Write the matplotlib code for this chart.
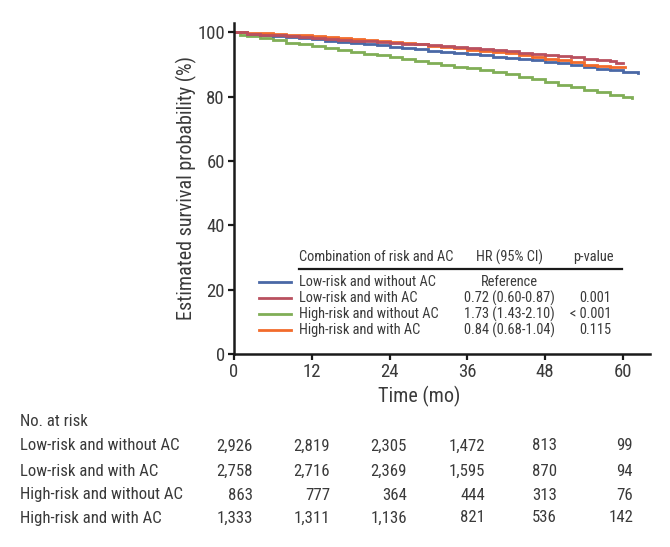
import matplotlib
matplotlib.use("Agg")
import matplotlib.pyplot as plt
import matplotlib.font_manager as fm
from matplotlib.lines import Line2D

# pick a condensed sans font if one is installed, else Roboto
_cands = []
for f in fm.fontManager.ttflist:
    nm = f.name
    st = str(f.stretch).lower()
    if f.style == "normal" and f.weight in (400, "normal", "regular") and (
            "narrow" in nm.lower() or "condensed" in nm.lower() or "condensed" in st):
        _cands.append(f)
_pref = ["Liberation Sans Narrow", "Roboto Condensed", "DejaVu Sans", "Noto Sans", "Open Sans"]
_cands.sort(key=lambda f: _pref.index(f.name) if f.name in _pref else 99)
if _cands:
    FONT_FAMILY = _cands[0].name
    FONT_STRETCH = _cands[0].stretch
else:
    FONT_FAMILY = "Roboto"
    FONT_STRETCH = "normal"
plt.rcParams['font.family'] = [FONT_FAMILY, 'DejaVu Sans']
plt.rcParams['font.stretch'] = FONT_STRETCH

# ---------------- data ----------------
groups = ["Low-risk and without AC", "Low-risk and with AC",
          "High-risk and without AC", "High-risk and with AC"]
colors = ["#4a68a6", "#b9505f", "#80ae56", "#f26b2b"]

t_low_noac = [0, 2, 4, 6, 8, 10, 12, 14, 16, 18, 20, 22, 24, 26, 28, 30, 32, 34, 36, 38,
              40, 42, 44, 46, 48, 50, 52, 54, 56, 58, 60, 62.3]
s_low_noac = [100, 99.5, 99.0, 98.7, 98.4, 98.1, 97.8, 97.4, 97.0, 96.6, 96.2, 95.9, 95.5,
              95.1, 94.7, 94.3, 93.9, 93.5, 93.1, 92.8, 92.4, 92.0, 91.6, 91.3, 90.9, 90.4,
              89.9, 89.3, 88.7, 88.2, 87.7, 87.4]

t_low_ac = [0, 2, 4, 6, 8, 10, 12, 14, 16, 18, 20, 22, 24, 26, 28, 30, 32, 34, 36, 38,
            40, 42, 44, 46, 48, 50, 52, 54, 56, 58, 59, 60]
s_low_ac = [100, 99.6, 99.3, 99.0, 98.8, 98.6, 98.3, 98.0, 97.7, 97.4, 97.2, 97.0, 96.8,
            96.5, 96.3, 96.0, 95.7, 95.4, 95.1, 94.8, 94.4, 94.1, 93.7, 93.3, 92.9, 92.6,
            92.2, 91.7, 91.3, 91.0, 90.4, 90.4]

t_high_noac = [0, 1, 2, 4, 6, 8, 10, 12, 14, 16, 18, 20, 22, 24, 26, 28, 30, 32, 34, 36,
               38, 40, 42, 44, 46, 48, 50, 52, 54, 56, 58, 60, 61.4]
s_high_noac = [100, 99.3, 98.8, 98.2, 97.5, 96.8, 96.2, 95.6, 95.0, 94.4, 93.9, 93.3, 92.8,
               92.3, 91.7, 91.0, 90.5, 89.9, 89.3, 88.8, 88.2, 87.6, 87.0, 86.2, 85.4, 84.4,
               83.6, 82.9, 82.2, 81.4, 80.6, 79.9, 79.7]

t_high_ac = [0, 2, 4, 6, 8, 10, 12, 14, 16, 18, 20, 22, 24, 26, 28, 30, 32, 34, 36, 38,
             40, 42, 44, 46, 48, 50, 52, 54, 56, 58, 60.3]
s_high_ac = [100, 99.9, 99.7, 99.5, 99.3, 99.1, 98.8, 98.5, 98.2, 97.9, 97.6, 97.3, 97.0,
             96.6, 96.2, 95.8, 95.4, 95.0, 94.6, 94.2, 93.8, 93.4, 92.8, 92.3, 91.8, 91.3,
             90.6, 89.8, 89.4, 89.2, 89.1]

hr_labels = ["Reference", "0.72 (0.60-0.87)", "1.73 (1.43-2.10)", "0.84 (0.68-1.04)"]
p_labels = ["", "0.001", "< 0.001", "0.115"]

x_ticks = [0, 12, 24, 36, 48, 60]
y_ticks = [0, 20, 40, 60, 80, 100]

at_risk = [
    ["2,926", "2,819", "2,305", "1,472", "813", "99"],
    ["2,758", "2,716", "2,369", "1,595", "870", "94"],
    ["863", "777", "364", "444", "313", "76"],
    ["1,333", "1,311", "1,136", "821", "536", "142"],
]

# ---------------- figure ----------------
W, H = 670, 547
fig = plt.figure(figsize=(W / 100, H / 100), dpi=100)

def fx(x):
    return x / W

def fy(y):
    return 1 - y / H

narrow = FONT_FAMILY != "Roboto"
k = 1.0 if narrow else 0.86  # size scale when no condensed font exists

txt = "#3a3a3a"
ax = fig.add_axes([fx(234), fy(354), fx(650) - fx(234), fy(22.6) - fy(354)])
curves = [(t_low_noac, s_low_noac), (t_low_ac, s_low_ac),
          (t_high_noac, s_high_noac), (t_high_ac, s_high_ac)]
order = [2, 0, 3, 1]
for i in order:
    t, s = curves[i]
    ax.step(t, s, where="post", color=colors[i], lw=2.0, solid_joinstyle="miter")

ax.set_xlim(0, 64.2)
ax.set_ylim(0, 103)
ax.set_xticks(x_ticks)
ax.set_yticks(y_ticks)
for sp in ["top", "right"]:
    ax.spines[sp].set_visible(False)
for sp in ["left", "bottom"]:
    ax.spines[sp].set_linewidth(1.8)
    ax.spines[sp].set_color("#1a1a1a")
ax.tick_params(direction="out", length=4.5, width=1.6, colors="#1a1a1a",
               labelsize=13.5 * k, labelcolor=txt, pad=2)
ax.set_xlabel("Time (mo)", fontsize=14.5 * k, color=txt)
ax.set_ylabel("Estimated survival probability (%)", fontsize=14.5 * k, color=txt, labelpad=0.5)
ax.xaxis.set_label_coords(0.445, -0.095)

# ---------------- legend table ----------------
fs_leg = 10.4 * k
fig.text(fx(299), fy(257), "Combination of risk and AC", fontsize=fs_leg, color=txt,
         ha="left", va="center")
fig.text(fx(509), fy(257), "HR (95% CI)", fontsize=fs_leg, color=txt, ha="center", va="center")
fig.text(fx(593), fy(257), "p-value", fontsize=fs_leg, color=txt, ha="center", va="center")
fig.add_artist(Line2D([fx(299), fx(622)], [fy(269), fy(269)], color="#1a1a1a", lw=1.6))
row_y = [282, 298, 314, 330]
for i in range(4):
    yy = fy(row_y[i])
    fig.add_artist(Line2D([fx(259), fx(291)], [yy, yy], color=colors[i], lw=2.0))
    fig.text(fx(299), yy, groups[i], fontsize=fs_leg, color=txt, ha="left", va="center")
    fig.text(fx(509), yy, hr_labels[i], fontsize=fs_leg, color=txt, ha="center", va="center")
    if p_labels[i]:
        fig.text(fx(611), yy, p_labels[i], fontsize=fs_leg, color=txt, ha="right", va="center")

# ---------------- number at risk ----------------
fs_r = 12.1 * k
fig.text(fx(20), fy(422), "No. at risk", fontsize=fs_r, color=txt, ha="left", va="center")
col_x = [253, 330, 407, 485, 557, 633]
risk_y = [446, 471, 495, 518]
for i in range(4):
    fig.text(fx(20), fy(risk_y[i]), groups[i], fontsize=fs_r, color=txt, ha="left", va="center")
    for j in range(6):
        fig.text(fx(col_x[j]), fy(risk_y[i]), at_risk[i][j], fontsize=fs_r, color=txt,
                 ha="right", va="center")

fig.savefig("out.png", dpi=100)
